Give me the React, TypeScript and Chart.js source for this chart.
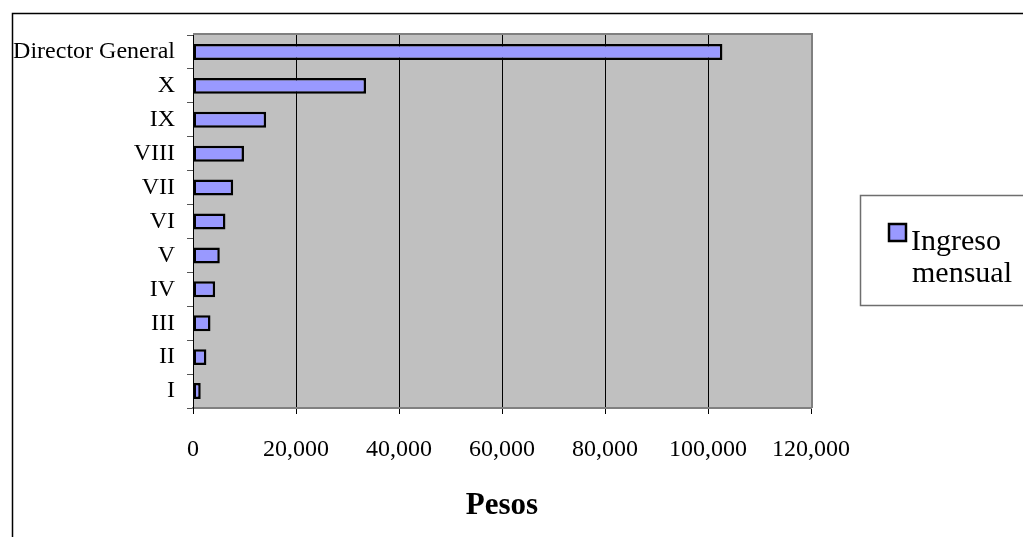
import React, { useEffect, useRef } from "react";
import { Chart, registerables } from "chart.js";

Chart.register(...registerables);

// Categories listed top to bottom as they appear on the vertical axis
const categories = ["Director General", "X", "IX", "VIII", "VII", "VI", "V", "IV", "III", "II", "I"];
// Monthly income in pesos for each category
const ingresoMensual = [102800, 33600, 14200, 9900, 7800, 6300, 5200, 4300, 3400, 2600, 1500];
const seriesLabel = "Ingreso mensual";
const axisTitle = "Pesos";
const xTickValues = [0, 20000, 40000, 60000, 80000, 100000, 120000];

const SERIF = "'Liberation Serif', 'Times New Roman', serif";
const BAR_FILL = "#9999FF";
const PLOT_BG = "#C0C0C0";
const FRAME = "#808080";

const W = 1023;
const H = 537;

// Gray plot background, plot frame, outer border and the boxed legend
const decorPlugin = {
  id: "decor",
  beforeDraw(chart: any) {
    const { ctx, chartArea: a } = chart;
    ctx.save();
    ctx.fillStyle = "#ffffff";
    ctx.fillRect(0, 0, W, H);
    ctx.fillStyle = PLOT_BG;
    ctx.fillRect(a.left, a.top - 2, a.right - a.left, a.bottom - a.top + 2);
    ctx.restore();
  },
  afterDraw(chart: any) {
    const { ctx, chartArea: a } = chart;
    ctx.save();
    // plot frame (top and right edge)
    ctx.strokeStyle = FRAME;
    ctx.lineWidth = 2;
    ctx.beginPath();
    ctx.moveTo(a.left, a.top - 1);
    ctx.lineTo(a.right + 1, a.top - 1);
    ctx.lineTo(a.right + 1, a.bottom);
    ctx.stroke();

    // outer chart border (continues past the right and bottom edges)
    ctx.strokeStyle = "#000000";
    ctx.lineWidth = 1.5;
    ctx.strokeRect(12.5, 13.5, 1100, 600);

    // legend box
    const lx = 860.5;
    const ly = 195.5;
    ctx.fillStyle = "#ffffff";
    ctx.fillRect(lx, ly, 200, 110);
    ctx.strokeStyle = "#6e6e6e";
    ctx.lineWidth = 1.5;
    ctx.strokeRect(lx, ly, 200, 110);

    // legend swatch
    ctx.fillStyle = BAR_FILL;
    ctx.fillRect(889, 224, 17, 17);
    ctx.strokeStyle = "#000000";
    ctx.lineWidth = 2.5;
    ctx.strokeRect(889, 224, 17, 17);

    // legend text
    const label = chart.data.datasets[0].label as string;
    const words = label.split(" ");
    ctx.fillStyle = "#000000";
    ctx.font = `30px ${SERIF}`;
    ctx.textAlign = "left";
    ctx.textBaseline = "alphabetic";
    ctx.fillText(words[0], 911, 250);
    ctx.fillText(words.slice(1).join(" "), 912, 282);
    ctx.restore();
  },
};

export default function App() {
  const canvasRef = useRef<HTMLCanvasElement | null>(null);

  useEffect(() => {
    const canvas = canvasRef.current;
    if (!canvas) return;
    const chart = new Chart(canvas, {
      type: "bar",
      data: {
        labels: categories,
        datasets: [
          {
            label: seriesLabel,
            data: ingresoMensual,
            backgroundColor: BAR_FILL,
            borderColor: "#000000",
            borderWidth: 2.5,
            borderSkipped: false,
            barPercentage: 0.47,
            categoryPercentage: 1,
          },
        ],
      },
      options: {
        indexAxis: "y",
        responsive: false,
        animation: false,
        devicePixelRatio: 1,
        layout: { padding: { left: 0, top: 35, right: W - 811, bottom: 0 } },
        plugins: {
          legend: { display: false },
          tooltip: { enabled: false },
        },
        scales: {
          x: {
            type: "linear",
            min: 0,
            max: 120000,
            afterBuildTicks(scale: any) {
              scale.ticks = xTickValues.map((v) => ({ value: v }));
            },
            afterFit(scale: any) {
              scale.height = H - 408;
            },
            ticks: {
              color: "#000000",
              font: { family: SERIF, size: 24 },
              padding: 21,
              maxRotation: 0,
              callback: (v: any) => Number(v).toLocaleString("en-US"),
            },
            grid: {
              color: "#000000",
              lineWidth: 1,
              tickLength: 6,
              tickColor: "#000000",
            },
            border: { color: FRAME, width: 2 },
            title: {
              display: true,
              text: axisTitle,
              color: "#000000",
              font: { family: SERIF, size: 31, weight: "bold" },
              padding: { top: 0, bottom: 12 },
            },
          },
          y: {
            type: "category",
            afterFit(scale: any) {
              scale.width = 193;
            },
            ticks: {
              color: "#000000",
              font: { family: SERIF, size: 24 },
              padding: 12,
              autoSkip: false,
            },
            grid: {
              drawOnChartArea: false,
              tickLength: 6,
              tickColor: "#555555",
              offset: true,
            },
            border: { color: "#000000", width: 1 },
          },
        },
      },
      plugins: [decorPlugin],
    } as any);
    return () => chart.destroy();
  }, []);

  return (
    <div style={{ position: "absolute", left: 0, top: 0, width: W, height: H, overflow: "hidden" }}>
      <canvas ref={canvasRef} width={W} height={H} style={{ display: "block" }} />
    </div>
  );
}
